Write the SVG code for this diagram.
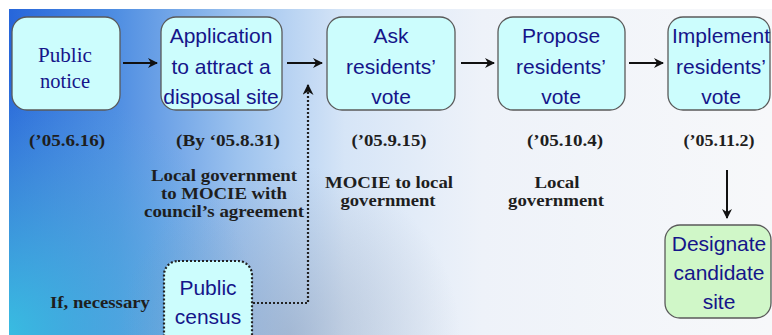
<svg xmlns="http://www.w3.org/2000/svg" width="772" height="335" viewBox="0 0 772 335">
<defs>
<linearGradient id="bg" x1="9" y1="0" x2="772" y2="0" gradientUnits="userSpaceOnUse">
<stop offset="0" stop-color="#2766da"/>
<stop offset="0.14" stop-color="#4f8ee2"/>
<stop offset="0.3" stop-color="#9cc2ee"/>
<stop offset="0.44" stop-color="#d6e5f7"/>
<stop offset="0.62" stop-color="#eef2f9"/>
<stop offset="1" stop-color="#f7f8fa"/>
</linearGradient>
<radialGradient id="cy" cx="0" cy="335" r="260" gradientUnits="userSpaceOnUse">
<stop offset="0" stop-color="#38c4e2" stop-opacity="0.95"/>
<stop offset="0.6" stop-color="#50b0dc" stop-opacity="0.45"/>
<stop offset="1" stop-color="#60b0e0" stop-opacity="0"/>
</radialGradient>
<radialGradient id="gr" cx="290" cy="335" r="170" gradientUnits="userSpaceOnUse">
<stop offset="0" stop-color="#8a98b0" stop-opacity="0.45"/>
<stop offset="1" stop-color="#8a98b0" stop-opacity="0"/>
</radialGradient>
<marker id="ah" viewBox="0 0 10 10" refX="9" refY="5" markerWidth="5" markerHeight="5" orient="auto" markerUnits="strokeWidth">
<path d="M0,0 L10,5 L0,10 L3,5 z" fill="#111"/>
</marker>
</defs>
<style>
.box{fill:#ccfdfd;stroke:#5a5a5a;stroke-width:1.3}
.green{fill:#d0f7c8;stroke:#5a5a5a;stroke-width:1.3}
.dot{fill:#ccfdfd;stroke:#222;stroke-width:2.2;stroke-dasharray:2 2}
.t{font-family:"Liberation Sans",Arial,sans-serif;font-size:21px;fill:#15158a;text-anchor:middle}
.ts{font-family:"Liberation Serif","Times New Roman",serif;font-size:20px;fill:#15158a;text-anchor:middle}
.d{font-family:"Liberation Serif","Times New Roman",serif;font-size:17px;font-weight:bold;fill:#1e1e1e;text-anchor:middle}
.n{font-family:"Liberation Serif","Times New Roman",serif;font-size:16px;font-weight:bold;fill:#1e1e1e;text-anchor:middle}
.arr{stroke:#111;stroke-width:2;fill:none;marker-end:url(#ah)}
.darr{stroke:#222;stroke-width:2.2;stroke-dasharray:2 2;fill:none;marker-end:url(#ah)}
</style>
<rect x="0" y="0" width="772" height="335" fill="#ffffff"/>
<rect x="9" y="9" width="763" height="326" fill="url(#bg)"/>
<rect x="9" y="9" width="763" height="326" fill="url(#cy)"/>
<rect x="9" y="9" width="763" height="326" fill="url(#gr)"/>

<g id="connectors">
<line class="arr" x1="123" y1="63" x2="157" y2="63"/>
<line class="arr" x1="287" y1="63" x2="322" y2="63"/>
<line class="arr" x1="461" y1="63" x2="494" y2="63"/>
<line class="arr" x1="629" y1="63" x2="663" y2="63"/>
<line class="arr" x1="727" y1="170" x2="727" y2="218"/>
<polyline class="darr" points="253,303 308,303 308,85"/>
</g>

<g id="public-notice">
<rect class="box" x="12" y="17" width="108" height="93" rx="15"/>
<text class="ts" x="65" y="62" textLength="54" lengthAdjust="spacingAndGlyphs">Public</text>
<text class="ts" x="65" y="88" textLength="50" lengthAdjust="spacingAndGlyphs">notice</text>
</g>
<g id="application">
<rect class="box" x="161" y="17" width="121" height="93" rx="15"/>
<text class="t" x="221" y="43">Application</text>
<text class="t" x="221" y="74">to attract a</text>
<text class="t" x="221" y="104">disposal site</text>
</g>
<g id="ask">
<rect class="box" x="327" y="17" width="128" height="93" rx="15"/>
<text class="t" x="391" y="43">Ask</text>
<text class="t" x="391" y="74">residents’</text>
<text class="t" x="391" y="104">vote</text>
</g>
<g id="propose">
<rect class="box" x="498" y="17" width="127" height="93" rx="15"/>
<text class="t" x="561" y="43">Propose</text>
<text class="t" x="561" y="74">residents’</text>
<text class="t" x="561" y="104">vote</text>
</g>
<g id="implement">
<rect class="box" x="668" y="17" width="102" height="93" rx="15"/>
<text class="t" x="721" y="43">Implement</text>
<text class="t" x="721" y="74">residents’</text>
<text class="t" x="721" y="104">vote</text>
</g>
<g id="designate">
<rect class="green" x="665" y="225" width="106" height="93" rx="15"/>
<text class="t" x="719" y="251">Designate</text>
<text class="t" x="719" y="280">candidate</text>
<text class="t" x="719" y="309">site</text>
</g>
<g id="public-census">
<rect class="dot" x="164" y="261" width="88" height="90" rx="14"/>
<text class="t" x="208" y="295">Public</text>
<text class="t" x="208" y="324">census</text>
</g>

<g id="labels">
<text class="d" x="67" y="146" textLength="76" lengthAdjust="spacingAndGlyphs">(’05.6.16)</text>
<text class="d" x="228" y="146" textLength="104" lengthAdjust="spacingAndGlyphs">(By ‘05.8.31)</text>
<text class="d" x="389" y="146" textLength="75" lengthAdjust="spacingAndGlyphs">(’05.9.15)</text>
<text class="d" x="565" y="146" textLength="76" lengthAdjust="spacingAndGlyphs">(’05.10.4)</text>
<text class="d" x="719" y="146" textLength="71" lengthAdjust="spacingAndGlyphs">(’05.11.2)</text>
<text class="n" x="224" y="181" textLength="146" lengthAdjust="spacingAndGlyphs">Local government</text>
<text class="n" x="224" y="199" textLength="126" lengthAdjust="spacingAndGlyphs">to MOCIE with</text>
<text class="n" x="224" y="217" textLength="160" lengthAdjust="spacingAndGlyphs">council’s agreement</text>
<text class="n" x="389" y="188" textLength="128" lengthAdjust="spacingAndGlyphs">MOCIE to local</text>
<text class="n" x="388" y="206" textLength="95" lengthAdjust="spacingAndGlyphs">government</text>
<text class="n" x="557" y="188" textLength="45" lengthAdjust="spacingAndGlyphs">Local</text>
<text class="n" x="556" y="206" textLength="96" lengthAdjust="spacingAndGlyphs">government</text>
<text class="n" x="100" y="308" textLength="100" lengthAdjust="spacingAndGlyphs">If, necessary</text>
</g>
</svg>
